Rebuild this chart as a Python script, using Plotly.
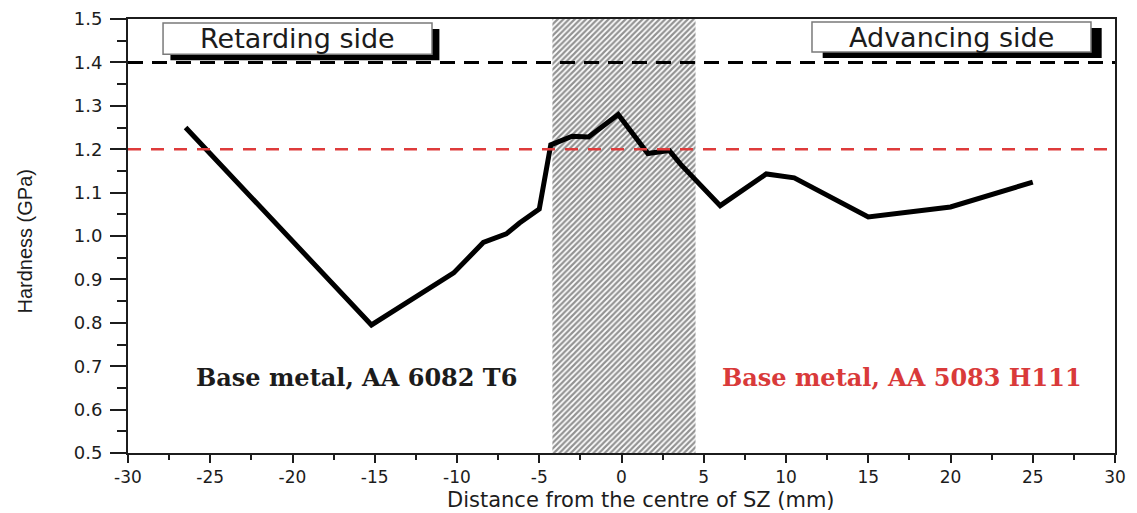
import plotly.graph_objects as go

# Microhardness profile across the weld (distance from stir-zone centre, mm)
distance_mm = [-26.5, -15.2, -10.2, -8.4, -7.0, -6.2, -5.0, -4.3, -3.0, -2.0, -0.2,
               1.6, 2.9, 3.6, 6.0, 7.2, 8.8, 10.5, 15.0, 20.0, 25.0]
hardness_gpa = [1.25, 0.795, 0.915, 0.985, 1.005, 1.03, 1.062, 1.21, 1.23, 1.228, 1.28,
                1.19, 1.197, 1.165, 1.07, 1.10, 1.143, 1.134, 1.044, 1.067, 1.124]

# Stir-zone extent (hatched band)
sz_start, sz_end = -4.2, 4.5

# Base-metal reference hardness levels
bm_6082_t6 = 1.4
bm_5083_h111 = 1.2

x_tick_values = [-30, -25, -20, -15, -10, -5, 0, 5, 10, 15, 20, 25, 30]
x_tick_labels = ["-30", "-25", "-20", "-15", "-10", "-5", "0", "5", "10", "15", "20", "25", "30"]
y_tick_values = [0.5, 0.6, 0.7, 0.8, 0.9, 1.0, 1.1, 1.2, 1.3, 1.4, 1.5]
y_tick_labels = ["0.5", "0.6", "0.7", "0.8", "0.9", "1.0", "1.1", "1.2", "1.3", "1.4", "1.5"]

y_min, y_max = 0.5, 1.5
x_min, x_max = -30, 30

SANS = "DejaVu Sans, Arial, sans-serif"
SERIF = "DejaVu Serif, Times New Roman, serif"
INK = "#1c1c1c"

fig = go.Figure()

# hatched stir zone
fig.add_trace(go.Scatter(
    x=[sz_start, sz_end, sz_end, sz_start, sz_start],
    y=[y_min, y_min, y_max, y_max, y_min],
    mode="lines", fill="toself",
    line=dict(width=0, color="rgba(0,0,0,0)"),
    fillcolor="rgba(0,0,0,0)",
    fillpattern=dict(shape="/", fgcolor="#262626", bgcolor="white", size=4, solidity=0.55),
    hoverinfo="skip",
))

# hardness profile
fig.add_trace(go.Scatter(
    x=distance_mm, y=hardness_gpa, mode="lines",
    line=dict(color="black", width=5),
))

shapes = [
    dict(type="line", xref="paper", yref="y", x0=0, x1=1, y0=bm_6082_t6, y1=bm_6082_t6,
         line=dict(color="black", width=3, dash="15px,9px")),
    dict(type="line", xref="paper", yref="y", x0=0, x1=1, y0=bm_5083_h111, y1=bm_5083_h111,
         line=dict(color="#de3b3b", width=2.5, dash="13px,10px")),
]

# framed labels with drop shadow
def framed_box(x0, x1, y0, y1, dx, dy):
    return [
        dict(type="rect", xref="x", yref="y", x0=x0 + dx, x1=x1 + dx, y0=y0 - dy, y1=y1 - dy,
             fillcolor="black", line=dict(width=0)),
        dict(type="rect", xref="x", yref="y", x0=x0, x1=x1, y0=y0, y1=y1,
             fillcolor="white", line=dict(color="#7a7a7a", width=1.5)),
    ]

shapes += framed_box(-27.87, -11.52, 1.419, 1.491, 0.45, 0.014)
shapes += framed_box(11.58, 28.54, 1.424, 1.493, 0.65, 0.014)

annotations = [
    dict(x=-19.7, y=1.456, xref="x", yref="y", text="Retarding side", showarrow=False,
         font=dict(family=SANS, size=27, color=INK)),
    dict(x=20.05, y=1.458, xref="x", yref="y", text="Advancing side", showarrow=False,
         font=dict(family=SANS, size=27, color=INK)),
    dict(x=-16.1, y=0.673, xref="x", yref="y", text="<b>Base metal, AA 6082 T6</b>",
         showarrow=False, font=dict(family=SERIF, size=24, color=INK)),
    dict(x=17.05, y=0.673, xref="x", yref="y", text="<b>Base metal, AA 5083 H111</b>",
         showarrow=False, font=dict(family=SERIF, size=24, color="#d93a3a")),
    # axis titles
    dict(x=0.52, y=-0.1094, xref="paper", yref="paper", text="Distance from the centre of SZ (mm)",
         showarrow=False, xanchor="center", yanchor="middle",
         font=dict(family=SANS, size=21, color=INK)),
    dict(x=-0.104, y=0.488, xref="paper", yref="paper", text="Hardness (GPa)", textangle=-90,
         showarrow=False, xanchor="center", yanchor="middle",
         font=dict(family="Liberation Sans, Arial, sans-serif", size=20, color=INK)),
]

fig.update_layout(
    width=1137, height=513,
    margin=dict(l=128, r=22, t=19, b=60),
    paper_bgcolor="white", plot_bgcolor="white",
    showlegend=False,
    shapes=shapes,
    annotations=annotations,
)

fig.update_xaxes(
    range=[x_min, x_max], tickmode="array", tickvals=x_tick_values, ticktext=x_tick_labels,
    ticks="outside", ticklen=8, tickwidth=2, tickcolor=INK,
    minor=dict(dtick=2.5, tick0=0, ticks="outside", ticklen=5, tickwidth=2, tickcolor=INK),
    showline=True, linecolor=INK, linewidth=2, mirror=True,
    showgrid=False, zeroline=False, ticklabelstandoff=0, automargin=False,
    tickfont=dict(family=SANS, size=17, color=INK),
)
fig.update_yaxes(
    range=[y_min, y_max], tickmode="array", tickvals=y_tick_values, ticktext=y_tick_labels,
    ticks="outside", ticklen=16, tickwidth=2, tickcolor=INK,
    minor=dict(dtick=0.05, tick0=0.5, ticks="outside", ticklen=9, tickwidth=2, tickcolor=INK),
    showline=True, linecolor=INK, linewidth=2, mirror=True,
    showgrid=False, zeroline=False, ticklabelstandoff=4, automargin=False,
    tickfont=dict(family=SANS, size=18, color=INK),
)

fig.write_html("out.html")
